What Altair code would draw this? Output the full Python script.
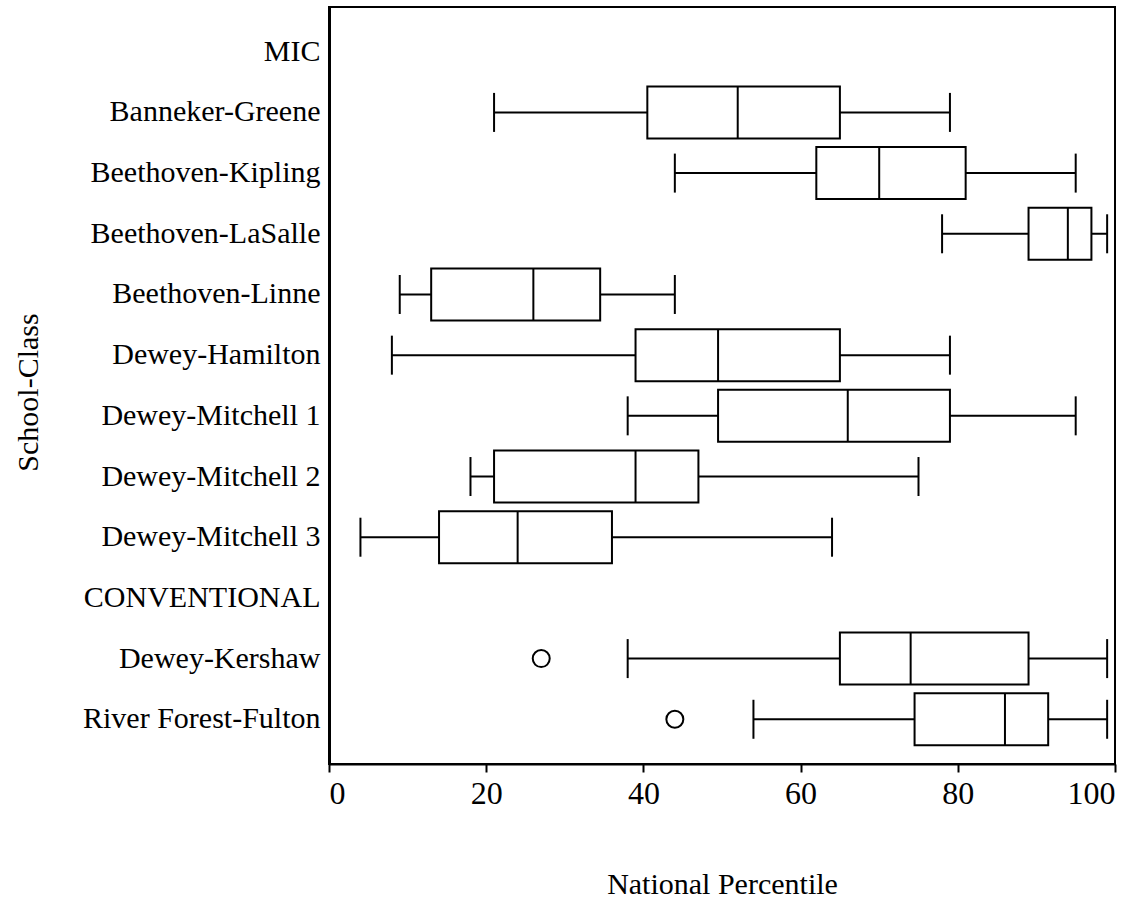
import altair as alt
import pandas as pd

# Row order on the y axis (group headers carry no box)
rows = ["MIC", "Banneker-Greene", "Beethoven-Kipling", "Beethoven-LaSalle",
        "Beethoven-Linne", "Dewey-Hamilton", "Dewey-Mitchell 1", "Dewey-Mitchell 2",
        "Dewey-Mitchell 3", "CONVENTIONAL", "Dewey-Kershaw", "River Forest-Fulton"]

# Five-number summaries per class
classes = ["Banneker-Greene", "Beethoven-Kipling", "Beethoven-LaSalle", "Beethoven-Linne",
           "Dewey-Hamilton", "Dewey-Mitchell 1", "Dewey-Mitchell 2", "Dewey-Mitchell 3",
           "Dewey-Kershaw", "River Forest-Fulton"]
lower = [21, 44, 78, 9, 8, 38, 18, 4, 38, 54]
q1 = [40.5, 62, 89, 13, 39, 49.5, 21, 14, 65, 74.5]
median = [52, 70, 94, 26, 49.5, 66, 39, 24, 74, 86]
q3 = [65, 81, 97, 34.5, 65, 79, 47, 36, 89, 91.5]
upper = [79, 95, 99, 44, 79, 95, 75, 64, 99, 99]

# Outlying observations
outlier_class = ["Dewey-Kershaw", "River Forest-Fulton"]
outlier_value = [27, 44]

box_df = pd.DataFrame({"cls": classes, "lower": lower, "q1": q1, "median": median,
                       "q3": q3, "upper": upper})
out_df = pd.DataFrame({"cls": outlier_class, "value": outlier_value})

FONT = "Liberation Serif"
LW = 2

y_enc = alt.Y("cls:N",
              scale=alt.Scale(type="band", domain=rows, paddingInner=0, paddingOuter=0.237),
              axis=alt.Axis(title="School-Class", ticks=False, labelFont=FONT, labelFontSize=30,
                            labelColor="black", labelPadding=9, labelLimit=400,
                            domainColor="black", domainWidth=3,
                            titleFont=FONT, titleFontSize=30, titleFontWeight="normal",
                            titleColor="black", titleAngle=270, titleX=-292, titleY=385,
                            titleBaseline="alphabetic", titleAlign="center"))

x_scale = alt.Scale(domain=[0, 100], nice=False, zero=False)
x_axis = alt.Axis(title="National Percentile", values=[0, 20, 40, 60, 80, 100], grid=False,
                  labelFont=FONT, labelFontSize=32, labelColor="black", labelPadding=6,
                  tickColor="black", tickWidth=2, tickSize=8,
                  domainColor="black", domainWidth=2,
                  titleFont=FONT, titleFontSize=30, titleFontWeight="normal", titleColor="black",
                  titleY=129, titleBaseline="alphabetic")

base = alt.Chart(box_df)

whisker = base.mark_rule(color="black", strokeWidth=LW).encode(
    x=alt.X("lower:Q", scale=x_scale, axis=x_axis), x2="upper:Q", y=y_enc)

caps_lo = base.mark_tick(color="black", size=39, thickness=LW, opacity=1).encode(
    x=alt.X("lower:Q", scale=x_scale), y=alt.Y("cls:N"))
caps_hi = base.mark_tick(color="black", size=39, thickness=LW, opacity=1).encode(
    x=alt.X("upper:Q", scale=x_scale), y=alt.Y("cls:N"))

box = base.mark_bar(size=52, fill="white", stroke="black", strokeWidth=LW, opacity=1).encode(
    x=alt.X("q1:Q", scale=x_scale), x2="q3:Q", y=alt.Y("cls:N"))

med = base.mark_tick(color="black", size=52, thickness=LW, opacity=1).encode(
    x=alt.X("median:Q", scale=x_scale), y=alt.Y("cls:N"))

outl = alt.Chart(out_df).mark_point(shape="circle", size=289, filled=False,
                                     color="black", strokeWidth=LW, opacity=1).encode(
    x=alt.X("value:Q", scale=x_scale), y=alt.Y("cls:N"))

chart = alt.layer(whisker, caps_lo, caps_hi, box, med, outl).properties(
    width=786, height=757,
    autosize=alt.AutoSizeParams(type="none"),
    padding={"left": 329, "top": 7, "right": 29, "bottom": 136},
    background="white",
).configure_view(stroke="black", strokeWidth=2)

chart.save("out.html", embed_options={"renderer": "svg", "actions": False})
